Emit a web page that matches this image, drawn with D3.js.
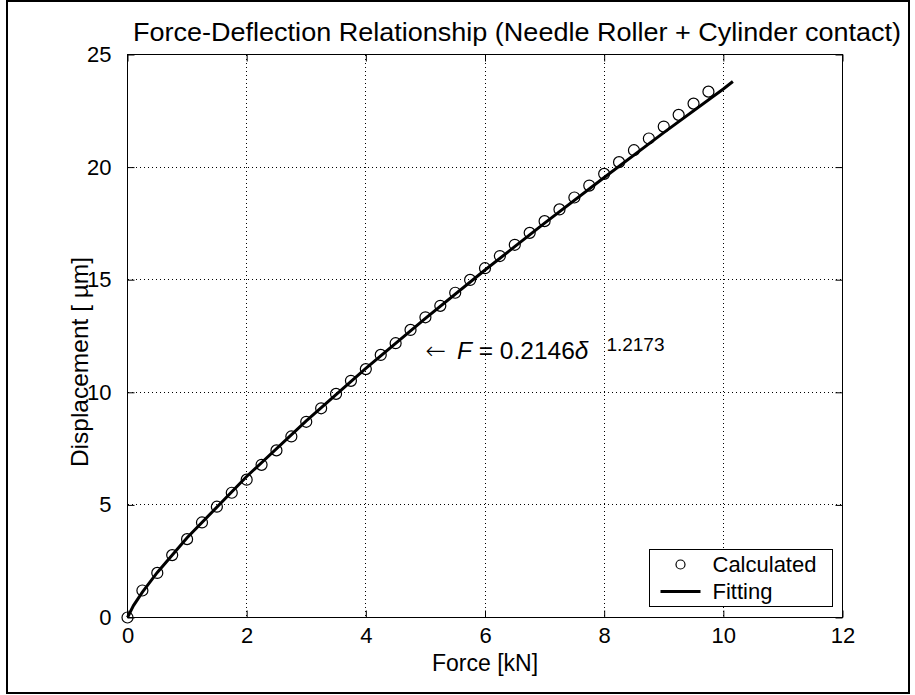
<!DOCTYPE html>
<html lang="en">
<head>
    <meta charset="UTF-8" />
    <title>Force-Deflection Relationship</title>
    <script src="https://d3js.org/d3.v7.min.js"></script>
    <style>
        body { margin: 0; background: white; }
        svg { display: block; font-family: "Liberation Sans", Arial, Helvetica, sans-serif; }
        .grid line { stroke: #000; stroke-dasharray: 1,3; stroke-width: 1; shape-rendering: crispEdges; }
        .tick-label { font-size: 22px; fill: #000; }
    </style>
</head>
<body>
    <div id="chart"></div>
    <script>
        // calculated points (circles)
        const calcForce = [0, 0.25, 0.5, 0.75, 1, 1.25, 1.5, 1.75, 2, 2.25, 2.5, 2.75, 3, 3.25, 3.5, 3.75,
                           4, 4.25, 4.5, 4.75, 5, 5.25, 5.5, 5.75, 6, 6.25, 6.5, 6.75, 7, 7.25, 7.5, 7.75,
                           8, 8.25, 8.5, 8.75, 9, 9.25, 9.5, 9.75];
        const calcDisp = [0, 1.2, 1.98, 2.77, 3.48, 4.22, 4.92, 5.54, 6.12, 6.78, 7.42, 8.04, 8.69, 9.29, 9.93, 10.51,
                          11.03, 11.66, 12.18, 12.77, 13.33, 13.84, 14.42, 14.99, 15.51, 16.05, 16.55, 17.08, 17.6, 18.12, 18.65, 19.18,
                          19.7, 20.22, 20.75, 21.27, 21.8, 22.32, 22.82, 23.35];

        // fitting curve
        const fitForce = [0, 0.1, 0.25, 0.5, 1, 2, 3, 4, 5, 6, 7, 8, 9, 10, 10.16];
        const fitDisp = [0, 0.53, 1.13, 2.0, 3.54, 6.26, 8.73, 11.06, 13.28, 15.43, 17.51, 19.54, 21.53, 23.47, 23.8];

        const xTicks = [0, 2, 4, 6, 8, 10, 12];
        const yTicks = [0, 5, 10, 15, 20, 25];

        const W = 915, H = 695;
        const margin = { top: 54.5, left: 127.5 },
              width = 715,
              height = 563;

        const root = d3.select("#chart").append("svg")
            .attr("width", W)
            .attr("height", H);

        // outer figure frame
        root.append("rect")
            .attr("x", 7).attr("y", 1)
            .attr("width", 902).attr("height", 692)
            .attr("fill", "none")
            .attr("stroke", "#000")
            .attr("stroke-width", 2);

        const svg = root.append("g")
            .attr("transform", `translate(${margin.left},${margin.top})`);

        const x = d3.scaleLinear().domain([0, 12]).range([0, width]);
        const y = d3.scaleLinear().domain([0, 25]).range([height, 0]);

        // dotted grid
        svg.append("g").attr("class", "grid")
            .selectAll("line.v")
            .data(xTicks.filter(d => d > 0 && d < 12))
            .join("line")
            .attr("x1", d => Math.round(x(d))).attr("x2", d => Math.round(x(d)))
            .attr("y1", 0).attr("y2", height);

        svg.append("g").attr("class", "grid")
            .selectAll("line.h")
            .data(yTicks.filter(d => d > 0 && d < 25))
            .join("line")
            .attr("x1", 0).attr("x2", width)
            .attr("y1", d => Math.round(y(d))).attr("y2", d => Math.round(y(d)));

        // axes (inner ticks, labels)
        const tickLen = 7;
        const xAxis = d3.axisBottom(x).tickValues(xTicks).tickSize(-tickLen).tickPadding(tickLen + 13);
        const yAxis = d3.axisLeft(y).tickValues(yTicks).tickSize(-tickLen).tickPadding(tickLen + 9);

        const gx = svg.append("g")
            .attr("transform", `translate(0,${height})`)
            .call(xAxis);
        const gy = svg.append("g").call(yAxis);

        svg.append("g").call(d3.axisTop(x).tickValues(xTicks).tickSize(-tickLen).tickFormat(""));
        svg.append("g").attr("transform", `translate(${width},0)`)
            .call(d3.axisRight(y).tickValues(yTicks).tickSize(-tickLen).tickFormat(""));

        svg.selectAll(".domain").remove();
        svg.selectAll(".tick line").attr("stroke", "#000");
        [gx, gy].forEach(g => g.selectAll(".tick text")
            .attr("class", "tick-label")
            .attr("font-family", null)
            .attr("font-size", null)
            .attr("fill", "#000"));
        gx.selectAll(".tick text").attr("dy", "0.35em").attr("y", 18);

        // box
        svg.append("rect")
            .attr("width", width).attr("height", height)
            .attr("fill", "none")
            .attr("stroke", "#000")
            .attr("stroke-width", 1);

        // fitting line
        const line = d3.line()
            .x(d => x(d[0]))
            .y(d => y(d[1]));

        svg.append("path")
            .datum(fitForce.map((f, i) => [f, fitDisp[i]]))
            .attr("d", line)
            .attr("fill", "none")
            .attr("stroke", "#000")
            .attr("stroke-width", 3);

        // calculated circles
        svg.selectAll("circle.calc")
            .data(calcForce.map((f, i) => [f, calcDisp[i]]))
            .join("circle")
            .attr("class", "calc")
            .attr("cx", d => x(d[0]))
            .attr("cy", d => y(d[1]))
            .attr("r", 5.5)
            .attr("fill", "none")
            .attr("stroke", "#000")
            .attr("stroke-width", 1.2);

        // equation annotation
        const eq = svg.append("text")
            .attr("x", x(5))
            .attr("y", y(11.5))
            .attr("font-size", 24.5)
            .attr("fill", "#000");
        eq.append("tspan").attr("font-family", "DejaVu Sans").attr("font-weight", 300).text("\u2190");
        eq.append("tspan").attr("dx", 11).attr("font-style", "italic").text("F");
        eq.append("tspan").text(" = 0.2146");
        eq.append("tspan").attr("font-style", "italic").text("\u03b4");
        eq.append("tspan").attr("dx", 18).attr("dy", -8).attr("font-size", 19).text("1.2173");

        // title and axis labels
        root.append("text")
            .attr("x", 517).attr("y", 41)
            .attr("text-anchor", "middle")
            .attr("font-size", 26)
            .attr("textLength", 768)
            .attr("lengthAdjust", "spacingAndGlyphs")
            .text("Force-Deflection Relationship (Needle Roller + Cylinder contact)");

        root.append("text")
            .attr("x", margin.left + width / 2)
            .attr("y", 671)
            .attr("text-anchor", "middle")
            .attr("font-size", 23)
            .text("Force [kN]");

        root.append("text")
            .attr("transform", "translate(88,362) rotate(-90)")
            .attr("text-anchor", "middle")
            .attr("font-size", 24.5)
            .text("Displacement [ \u00b5m]");

        // legend
        const legend = svg.append("g")
            .attr("transform", `translate(${width - 193},${height - 68})`);

        legend.append("rect")
            .attr("width", 183).attr("height", 57)
            .attr("fill", "white")
            .attr("stroke", "#000");

        legend.append("circle")
            .attr("cx", 31).attr("cy", 15)
            .attr("r", 4.5)
            .attr("fill", "none")
            .attr("stroke", "#000")
            .attr("stroke-width", 1.2);

        legend.append("line")
            .attr("x1", 11).attr("x2", 51)
            .attr("y1", 42).attr("y2", 42)
            .attr("stroke", "#000")
            .attr("stroke-width", 3);

        legend.append("text")
            .attr("x", 63).attr("y", 15).attr("dy", "0.36em")
            .attr("font-size", 22)
            .text("Calculated");

        legend.append("text")
            .attr("x", 63).attr("y", 42).attr("dy", "0.36em")
            .attr("font-size", 22)
            .text("Fitting");
    </script>
</body>
</html>
